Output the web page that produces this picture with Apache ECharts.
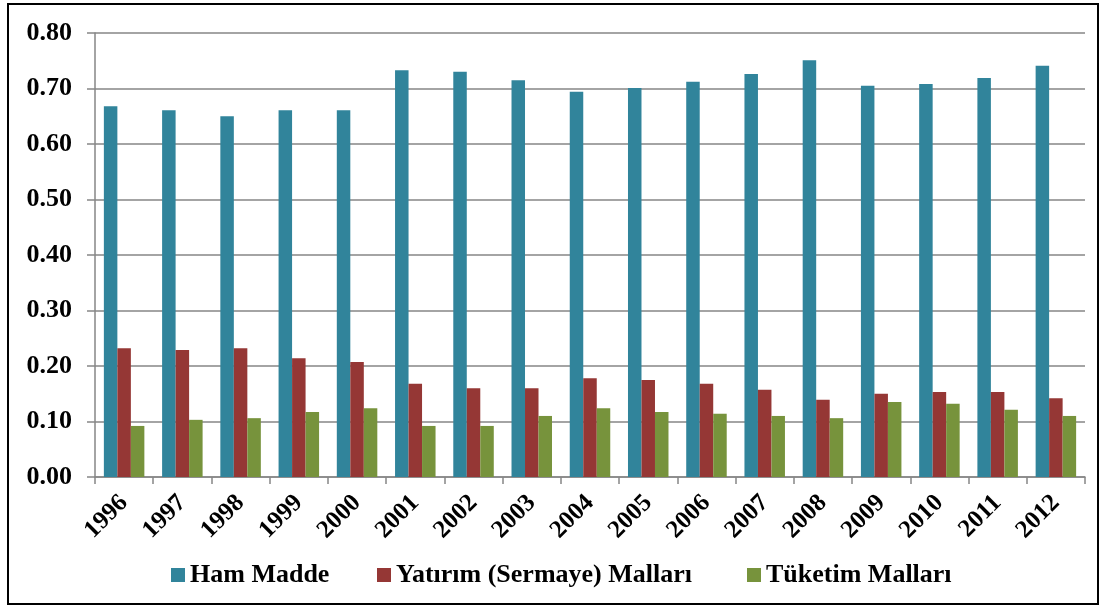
<!DOCTYPE html>
<html>
<head>
<meta charset="utf-8">
<script src="https://cdn.jsdelivr.net/npm/echarts@6/dist/echarts.min.js"></script>
<style>
  html, body { margin: 0; padding: 0; background: #fff; }
  #chart { width: 1101px; height: 609px; }
</style>
</head>
<body>
<div id="chart"></div>
<script>
// yıllar
const years = ['1996', '1997', '1998', '1999', '2000', '2001', '2002', '2003', '2004',
  '2005', '2006', '2007', '2008', '2009', '2010', '2011', '2012'];
const seriesNames = ['Ham Madde', 'Yatırım (Sermaye) Malları', 'Tüketim Malları'];
const hamMadde = [0.668, 0.661, 0.650, 0.661, 0.661, 0.733, 0.730, 0.715, 0.694,
  0.701, 0.712, 0.726, 0.751, 0.705, 0.708, 0.719, 0.741];
const yatirim = [0.232, 0.229, 0.232, 0.214, 0.207, 0.168, 0.160, 0.160, 0.178,
  0.175, 0.168, 0.157, 0.139, 0.150, 0.153, 0.153, 0.142];
const tuketim = [0.092, 0.103, 0.106, 0.117, 0.124, 0.092, 0.092, 0.110, 0.124,
  0.117, 0.114, 0.110, 0.106, 0.135, 0.132, 0.121, 0.110];

const colors = ['#31849B', '#953735', '#77933C'];
const font = '"Liberation Serif", "Times New Roman", serif';
const gray = '#868686';

let chart = echarts.init(document.getElementById('chart'));

// her lejant öğesi ayrı konumlanıyor
const legendLeft = [166, 372, 742];
const legends = seriesNames.map((name, i) => ({
    data: [name],
    left: legendLeft[i],
    top: 557,
    itemWidth: 14,
    itemHeight: 14,
    itemGap: 8,
    icon: 'rect',
    textStyle: {
        fontFamily: font,
        fontWeight: 'bold',
        fontSize: 26,
        color: '#000'
    }
}));

const values = [hamMadde, yatirim, tuketim];

let option = {
    backgroundColor: '#fff',
    animation: false,
    color: colors,
    graphic: [{
        type: 'rect',
        shape: { x: 8, y: 4, width: 1090, height: 600 },
        style: { fill: 'none', stroke: '#000', lineWidth: 2 },
        silent: true
    }],
    legend: legends,
    grid: {
        left: 95,
        right: 16,
        top: 33,
        bottom: 132
    },
    xAxis: {
        type: 'category',
        data: years,
        boundaryGap: true,
        axisLine: { lineStyle: { color: gray, width: 1.5 } },
        axisTick: { show: true, length: 7, lineStyle: { color: gray, width: 1.5 } },
        axisLabel: {
            rotate: 45,
            margin: 22,
            fontFamily: font,
            fontWeight: 'bold',
            fontSize: 25,
            color: '#000',
            interval: 0
        }
    },
    yAxis: {
        type: 'value',
        min: 0,
        max: 0.8,
        interval: 0.1,
        axisLine: { show: true, lineStyle: { color: gray, width: 1.5 } },
        axisTick: { show: true, length: 8, lineStyle: { color: gray, width: 1.5 } },
        splitLine: { lineStyle: { color: gray, width: 1.5 } },
        axisLabel: {
            margin: 23,
            formatter: v => v.toFixed(2),
            fontFamily: font,
            fontWeight: 'bold',
            fontSize: 26,
            color: '#000'
        }
    },
    series: seriesNames.map((name, i) => ({
        name: name,
        type: 'bar',
        data: values[i],
        barWidth: 13.5,
        barGap: '0%',
        itemStyle: { color: colors[i] }
    }))
};

chart.setOption(option);
</script>
</body>
</html>
